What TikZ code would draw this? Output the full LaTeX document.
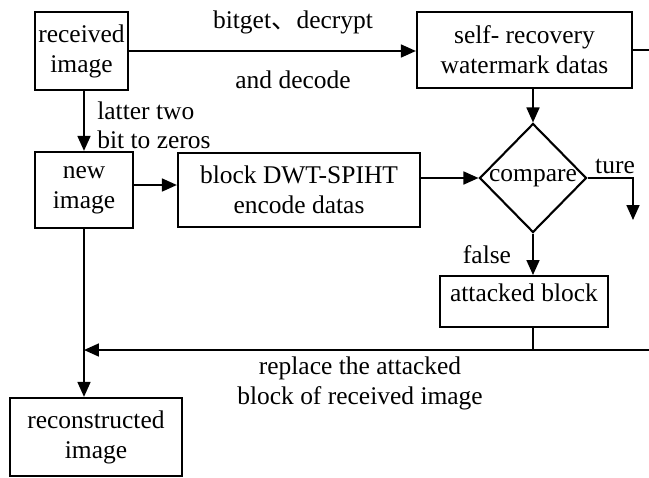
\documentclass[tikz,border=0pt]{standalone}
\usepackage{fontspec}
\setmainfont{Liberation Serif}
\newfontfamily\cjkfont{Noto Sans CJK SC}
\usetikzlibrary{arrows.meta,positioning,shapes.geometric}
\tikzset{
  procbox/.style={
    draw,
    line width=1.3pt,
    inner sep=0pt,
    align=center
  },
  decision/.style={
    diamond,
    draw,
    line width=1.2pt,
    inner sep=0pt,
    minimum width=2.14cm,
    minimum height=2.18cm
  },
  flow/.style={line width=1pt},
  arrow/.style={
    -{Triangle[length=0.3cm,width=0.26cm]},
    line width=1pt
  },
  tag/.style={inner sep=0pt, align=center}
}

\begin{document}
\begin{tikzpicture}[x=0.02cm, y=-0.02cm, font=\fontsize{14.5pt}{17pt}\selectfont]
\useasboundingbox (0,0) rectangle (649,477);
% boxes
\node[procbox, line width=1.6pt, minimum width=1.86cm, minimum height=1.56cm] (recv) at (81.5,51) {received\\image};
\node[procbox, minimum width=4.3cm, minimum height=1.52cm] (selfrec) at (524.5,50) {self- recovery\\watermark datas};
\node[procbox, minimum width=1.96cm, minimum height=1.52cm] (newimg) at (84,190) {new\\image};
\node[procbox, minimum width=4.84cm, minimum height=1.48cm] (dwt) at (299,190) {block DWT-SPIHT\\encode datas};
\node[decision] (cmp) at (533,178) {};
\node[tag] (cmplbl) at (cmp) {compare};
\node[procbox, minimum width=3.36cm, text height=0.5cm, text depth=0.52cm] (attack) at (524,275) [anchor=north] {attacked block};
\node[procbox, minimum width=3.44cm, minimum height=1.56cm] (recon) at (96,437) {reconstructed\\image};

% loose ends at the border
\coordinate (srout) at (649,50);
\coordinate (tureend) at (633,220);
\coordinate (backR) at (649,350);

% labels
\node[tag] (lbldec) at (293,22) {bitget{\cjkfont 、}decrypt};
\node[tag] (lblcode) at (293,80) {and decode};
\node[tag, anchor=west] (lbllat) at (97,111) {latter two};
\node[tag, anchor=west] (lblbit) at (97,140) {bit to zeros};
\node[tag] (lblture) at (615,166) {ture};
\node[tag] (lblfalse) at (487,255) {false};
\node[tag] (lblrep) at (360,383) {replace the attacked\\block of received image};

% connectors
\draw[arrow] (recv.east) -- (recv.east -| selfrec.west);
\draw[flow] (selfrec.east) -- (srout);
\draw[arrow] (recv.south -| newimg.north) -- (newimg.north);
\draw[arrow] ([yshift=0.1cm]newimg.east) -- ([yshift=0.1cm]newimg.east -| dwt.west);
\draw[arrow] (dwt.east |- cmp.west) -- (cmp.west);
\draw[arrow] (selfrec.south -| cmp.north) -- (cmp.north);
\draw[arrow] (cmp.east) -| (tureend);
\draw[arrow] (cmp.south) -- (cmp.south |- attack.north);
\draw[flow] (attack.south -| cmp.south) -- (backR -| cmp.south);
\draw[arrow] (backR) -- (backR -| newimg.south);
\draw[arrow] (newimg.south) -- (newimg.south |- recon.north);
\end{tikzpicture}
\end{document}
